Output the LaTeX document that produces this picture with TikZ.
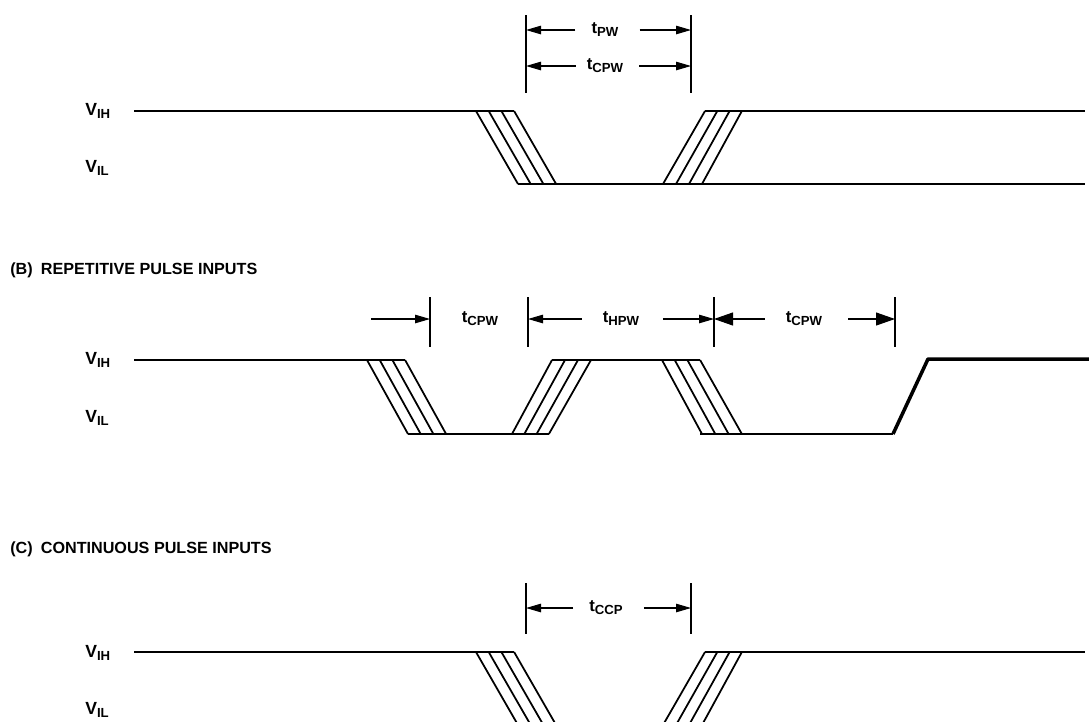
\documentclass[tikz,border=0pt]{standalone}
\usepackage{fontspec}
\setmainfont{Liberation Sans}
\usetikzlibrary{arrows.meta}

\newcommand{\lv}[2]{#1\raisebox{-0.35ex}{\fontsize{7.5}{8}\selectfont #2}}
\newcommand{\tm}[1]{t\raisebox{-0.35ex}{\fontsize{7.5}{8}\selectfont #1}}

\begin{document}
\begin{tikzpicture}[x=0.02cm,y=-0.02cm,
  lvl/.style={anchor=west,inner sep=0pt,font=\bfseries\fontsize{10}{10}\selectfont},
  head/.style={anchor=west,inner sep=0pt,font=\bfseries\fontsize{9.2}{10}\selectfont},
  tlbl/.style={font=\bfseries\fontsize{9.5}{10}\selectfont},
  sig/.style={line width=1pt},
  tick/.style={line width=0.8pt},
  dim/.style={line width=0.6pt,-{Triangle[length=0.3cm,width=0.17cm]}},
  bigdim/.style={line width=0.6pt,-{Triangle[length=0.38cm,width=0.26cm]}}]
  \useasboundingbox (0,0) rectangle (1089,721);
  \clip (0,0) rectangle (1089,721);

  % (A) single pulse
  \node[lvl] (ihA) at (85,111) {\lv{V}{IH}};
  \node[lvl] (ilA) at (85,168) {\lv{V}{IL}};
  \draw[sig] (134,111) -- (514,111);
  \draw[sig] (518,184) -- (1085,184);
  \draw[sig] (705,111) -- (1085,111);
  \foreach \i in {0,...,3} {
    \draw[sig] (476+12.7*\i,111) -- (518+12.7*\i,184);
    \draw[sig] (663+13*\i,184) -- (705+12.3*\i,111);
  }
  \coordinate (aL) at (526,15);
  \coordinate (aR) at (691,15);
  \draw[tick] (aL) -- ++(0,78);
  \draw[tick] (aR) -- ++(0,78);
  \node[tlbl] (pw) at (605,30) {\tm{PW}};
  \node[tlbl] (cpwA) at (605,66) {\tm{CPW}};
  \draw[dim] ([xshift=-0.2cm]pw.west) -- (aL |- pw);
  \draw[dim] ([xshift=0.3cm]pw.east) -- (aR |- pw);
  \draw[dim] ([xshift=-0.1cm]cpwA.west) -- (aL |- cpwA);
  \draw[dim] ([xshift=0.2cm]cpwA.east) -- (aR |- cpwA);

  % (B) repetitive pulses
  \node[head] (hB) at (10,270) {(B)\enspace REPETITIVE PULSE INPUTS};
  \node[lvl] (ihB) at (85,360) {\lv{V}{IH}};
  \node[lvl] (ilB) at (85,418) {\lv{V}{IL}};
  \draw[sig] (134,360) -- (405,360);
  \draw[sig] (408,434) -- (549,434);
  \draw[sig] (552,360) -- (700,360);
  \draw[sig] (700,434) -- (893,434);
  \draw[line width=2pt,line join=round] (893,434) -- (928,359) -- (1089,359);
  \foreach \i in {0,...,3} {
    \draw[sig] (367+12.7*\i,360) -- (408+12.7*\i,434);
    \draw[sig] (512+12.3*\i,434) -- (552+13*\i,360);
    \draw[sig] (662+12.7*\i,360) -- (702+13.3*\i,434);
  }
  \coordinate (b1) at (430,297);
  \coordinate (b2) at (528,297);
  \coordinate (b3) at (714,297);
  \coordinate (b4) at (895,297);
  \foreach \c in {b1,b2,b3,b4} \draw[tick] (\c) -- ++(0,50);
  \node[tlbl] (cpwB) at (480,319) {\tm{CPW}};
  \node[tlbl] (hpw) at (621,319) {\tm{HPW}};
  \node[tlbl] (cpwC) at (804,319) {\tm{CPW}};
  \draw[dim] (b1 |- cpwB) ++(-59,0) -- (b1 |- cpwB);
  \draw[dim] ([xshift=-0.3cm]hpw.west) -- (b2 |- hpw);
  \draw[dim] ([xshift=0.35cm]hpw.east) -- (b3 |- hpw);
  \draw[bigdim] ([xshift=-0.3cm]cpwC.west) -- (b3 |- cpwC);
  \draw[bigdim] ([xshift=0.4cm]cpwC.east) -- (b4 |- cpwC);

  % (C) continuous pulses
  \node[head] (hC) at (10,549) {(C)\enspace CONTINUOUS PULSE INPUTS};
  \node[lvl] (ihC) at (85,653) {\lv{V}{IH}};
  \node[lvl] (ilC) at (85,710) {\lv{V}{IL}};
  \draw[sig] (134,652) -- (514,652);
  \draw[sig] (705,652) -- (1085,652);
  \foreach \i in {0,...,3} {
    \draw[sig] (476+12.7*\i,652) -- (518+12.7*\i,725);
    \draw[sig] (663+13*\i,725) -- (705+12.3*\i,652);
  }
  \coordinate (cL) at (526,583);
  \coordinate (cR) at (691,583);
  \draw[tick] (cL) -- ++(0,51);
  \draw[tick] (cR) -- ++(0,51);
  \node[tlbl] (ccp) at (606,608) {\tm{CCP}};
  \draw[dim] ([xshift=-0.2cm]ccp.west) -- (cL |- ccp);
  \draw[dim] ([xshift=0.3cm]ccp.east) -- (cR |- ccp);
\end{tikzpicture}
\end{document}
